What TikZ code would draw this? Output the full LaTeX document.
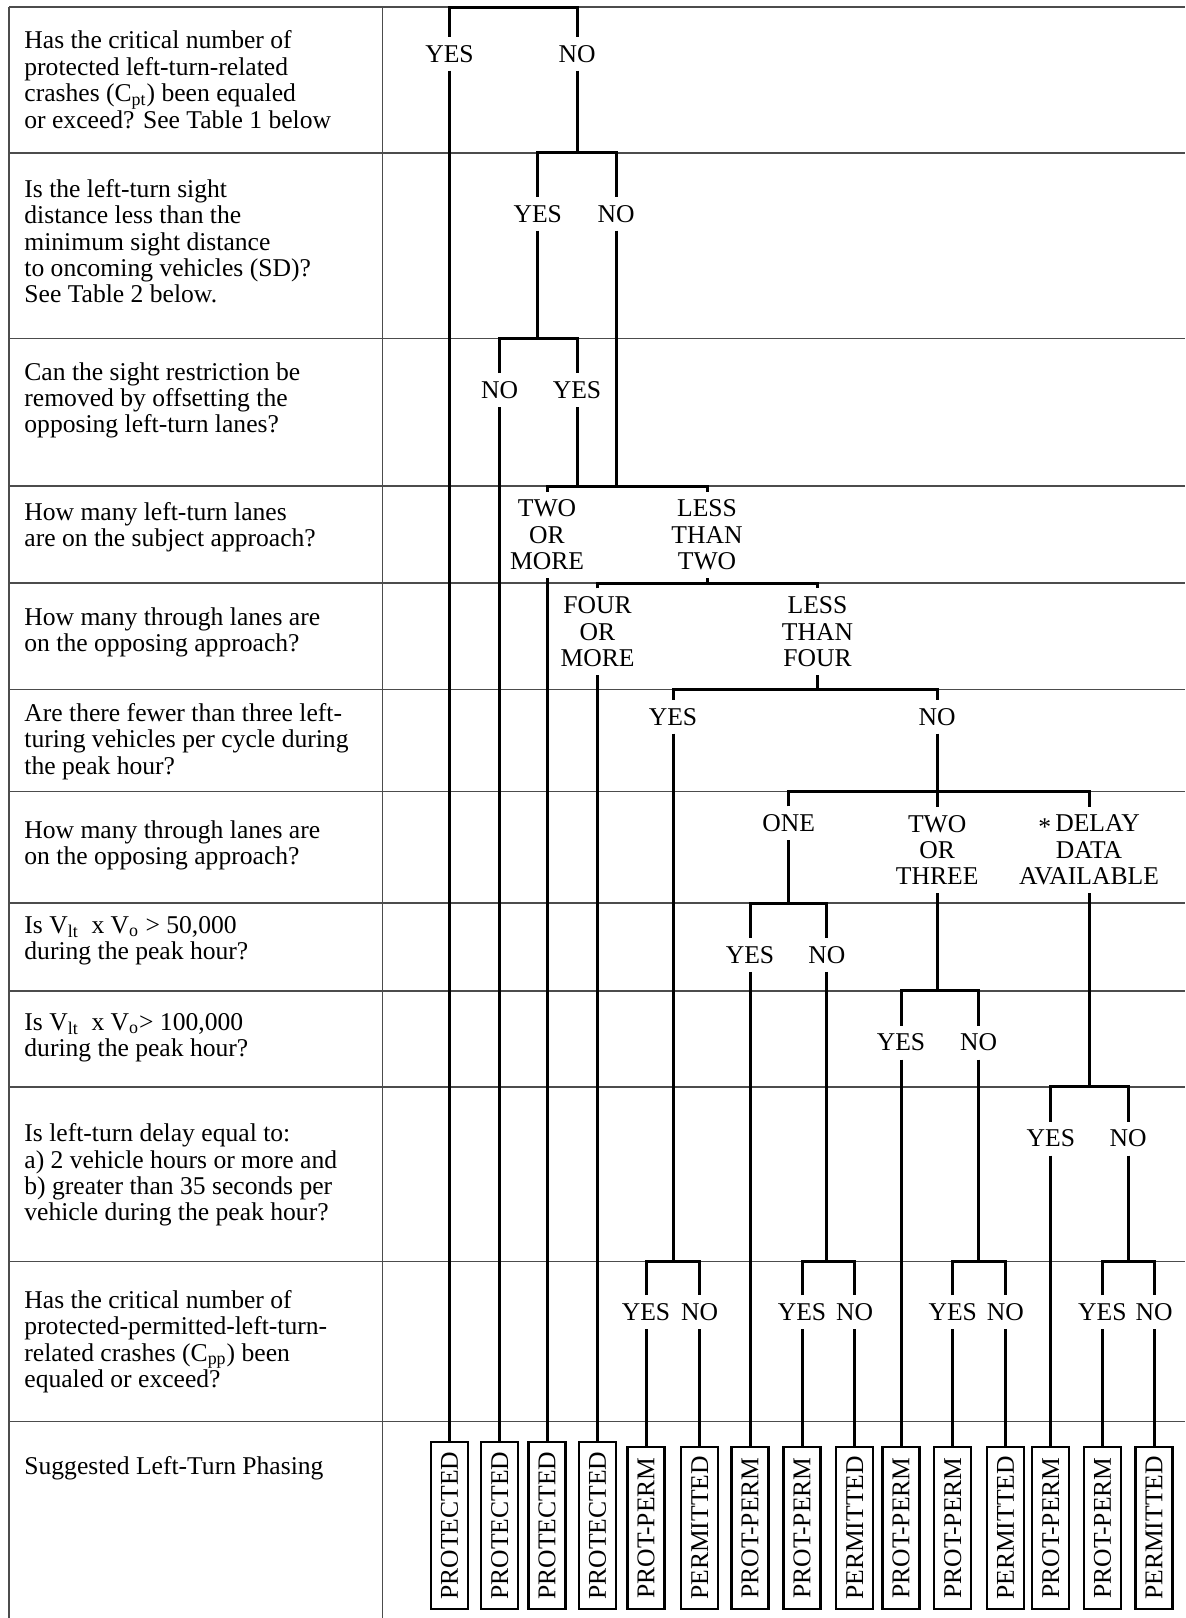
\documentclass[tikz,border=0pt]{standalone}
\usepackage{fontspec}
\setmainfont{Liberation Serif}
\newcommand\qf{\fontsize{12.8}{13.2}\selectfont}
\begin{document}
\begin{tikzpicture}[x=0.5pt,y=-0.5pt,
  grid/.style={draw=black!70, line width=0.75pt},
  tree/.style={draw=black, line width=1.5pt},
  q/.style={anchor=north west, align=left, inner sep=0pt, font=\qf},
  lab/.style={align=center, inner xsep=1pt, inner ysep=4pt, font=\qf},
  outbox/.style={draw=black, line width=1.1pt, rotate=90, inner sep=0pt, minimum height=18.5pt, font=\qf},
  prot/.style={outbox, minimum width=83.5pt},
  pp/.style={outbox, minimum width=81pt}]

\useasboundingbox (0,0) rectangle (1185,1618);
\fill[white] (0,0) rectangle (1185,1618);

% table grid
\foreach \y in {7.2,152.8,338.6,486.2,583.2,689.5,791.7,903.2,990.9,1086.9,1261.4,1421.4}
  \draw[grid] (9,\y) -- (1185,\y);
\draw[grid] (9,7.2) -- (9,1618);
\draw[grid] (382.5,7.2) -- (382.5,1618);

% questions
\node[q] (q1) at (24,30) {\strut Has the critical number of\\ protected left-turn-related\\ crashes (C\textsubscript{pt}) been equaled\\ or exceed? See Table 1 below};
\node[q] (q2) at (24,178.5) {\strut Is the left-turn sight\\ distance less than the\\ minimum sight distance\\ to oncoming vehicles (SD)?\\ See Table 2 below.};
\node[q] (q3) at (24,361.2) {\strut Can the sight restriction be\\ removed by offsetting the\\ opposing left-turn lanes?};
\node[q] (q4) at (24,501.2) {\strut How many left-turn lanes\\ are on the subject approach?};
\node[q] (q5) at (24,606.2) {\strut How many through lanes are\\ on the opposing approach?};
\node[q] (q6) at (24,702.5) {\strut Are there fewer than three left-\\ turing vehicles per cycle during\\ the peak hour?};
\node[q] (q7) at (24,819.5) {\strut How many through lanes are\\ on the opposing approach?};
\node[q] (q8) at (24,914.5) {\strut Is V\textsubscript{lt}\ \ x V\textsubscript{o} > 50,000\\ during the peak hour?};
\node[q] (q9) at (24,1011.2) {\strut Is V\textsubscript{lt}\ \ x V\textsubscript{o}> 100,000\\ during the peak hour?};
\node[q] (q10) at (24,1122.8) {\strut Is left-turn delay equal to:\\ a) 2 vehicle hours or more and\\ b) greater than 35 seconds per\\ vehicle during the peak hour?};
\node[q] (q11) at (24,1289.5) {\strut Has the critical number of\\ protected-permitted-left-turn-\\ related crashes (C\textsubscript{pp}) been\\ equaled or exceed?};
\node[q] (q12) at (24,1455.5) {\strut Suggested Left-Turn Phasing};

% bar coordinates
\coordinate (b1l) at (449.5,7.2);  \coordinate (b1r) at (577,7.2);
\coordinate (b2l) at (537.8,152.8); \coordinate (b2m) at (577,152.8); \coordinate (b2r) at (616.2,152.8);
\coordinate (b3l) at (499.7,338.6); \coordinate (b3m) at (537.8,338.6); \coordinate (b3r) at (577,338.6);
\coordinate (b4l) at (547,486.2); \coordinate (b4a) at (577,486.2); \coordinate (b4b) at (616.2,486.2); \coordinate (b4r) at (707,486.2);
\coordinate (b5l) at (597.5,583.2); \coordinate (b5m) at (707,583.2); \coordinate (b5r) at (817.5,583.2);
\coordinate (b6l) at (673,689.5); \coordinate (b6m) at (817.5,689.5); \coordinate (b6r) at (937.2,689.5);
\coordinate (b7l) at (788.6,791.7); \coordinate (b7m) at (937.2,791.7); \coordinate (b7r) at (1089,791.7);
\coordinate (b8l) at (750,903.2); \coordinate (b8m) at (788.6,903.2); \coordinate (b8r) at (826.8,903.2);
\coordinate (b9l) at (901,990.9); \coordinate (b9m) at (937.2,990.9); \coordinate (b9r) at (978.5,990.9);
\coordinate (b10l) at (1050.8,1086.9); \coordinate (b10m) at (1089,1086.9); \coordinate (b10r) at (1128.2,1086.9);
\coordinate (b11al) at (646,1261.4); \coordinate (b11am) at (673,1261.4); \coordinate (b11ar) at (699.7,1261.4);
\coordinate (b11bl) at (802,1261.4); \coordinate (b11bm) at (826.8,1261.4); \coordinate (b11br) at (854.7,1261.4);
\coordinate (b11cl) at (952.7,1261.4); \coordinate (b11cm) at (978.5,1261.4); \coordinate (b11cr) at (1005.4,1261.4);
\coordinate (b11dl) at (1102.4,1261.4); \coordinate (b11dm) at (1128.2,1261.4); \coordinate (b11dr) at (1154,1261.4);

% labels
\node[lab] (yes1) at (449.5,53.7) {YES};
\node[lab] (no1) at (577,53.7) {NO};
\node[lab] (yes2) at (537.8,213.7) {YES};
\node[lab] (no2) at (616.2,213.7) {NO};
\node[lab] (no3) at (499.7,390.2) {NO};
\node[lab] (yes3) at (577,390.2) {YES};
\node[lab] (twomore) at (547,535) {TWO\\OR\\MORE};
\node[lab] (lesstwo) at (707,535) {LESS\\THAN\\TWO};
\node[lab] (fourmore) at (597.5,631.7) {FOUR\\OR\\MORE};
\node[lab] (lessfour) at (817.5,631.7) {LESS\\THAN\\FOUR};
\node[lab] (yes6) at (673,716.7) {YES};
\node[lab] (no6) at (937.2,716.7) {NO};
\node[lab] (one) at (788.6,823.3) {ONE};
\node[lab] (twothree) at (937.2,850) {TWO\\OR\\THREE};
\node[lab] (delay) at (1089,850) {\raisebox{-0.15em}{*}\,DELAY\\DATA\\AVAILABLE};
\node[lab] (yes8) at (750,954.8) {YES};
\node[lab] (no8) at (826.8,954.8) {NO};
\node[lab] (yes9) at (901,1042.5) {YES};
\node[lab] (no9) at (978.5,1042.5) {NO};
\node[lab] (yes10) at (1050.8,1138.5) {YES};
\node[lab] (no10) at (1128.2,1138.5) {NO};
\node[lab] (y11a) at (646,1312) {YES};
\node[lab] (n11a) at (699.7,1312) {NO};
\node[lab] (y11b) at (802,1312) {YES};
\node[lab] (n11b) at (854.7,1312) {NO};
\node[lab] (y11c) at (952.7,1312) {YES};
\node[lab] (n11c) at (1005.4,1312) {NO};
\node[lab] (y11d) at (1102.4,1312) {YES};
\node[lab] (n11d) at (1154,1312) {NO};

% outcome boxes
\node[prot] (o1) at (449.5,1525.5) {PROTECTED};
\node[prot] (o2) at (499.7,1525.5) {PROTECTED};
\node[prot] (o3) at (547,1525.5) {PROTECTED};
\node[prot] (o4) at (597.5,1525.5) {PROTECTED};
\node[pp] (o5) at (646,1528) {PROT-PERM};
\node[pp] (o6) at (699.7,1528) {PERMITTED};
\node[pp] (o7) at (750,1528) {PROT-PERM};
\node[pp] (o8) at (802,1528) {PROT-PERM};
\node[pp] (o9) at (854.7,1528) {PERMITTED};
\node[pp] (o10) at (901,1528) {PROT-PERM};
\node[pp] (o11) at (952.7,1528) {PROT-PERM};
\node[pp] (o12) at (1005.4,1528) {PERMITTED};
\node[pp] (o13) at (1050.8,1528) {PROT-PERM};
\node[pp] (o14) at (1102.4,1528) {PROT-PERM};
\node[pp] (o15) at (1154,1528) {PERMITTED};

% tree connectors
\draw[tree] (yes1) -- (b1l) -- (b1r) -- (no1);
\draw[tree] (yes1) -- (o1);
\draw[tree] (no1) -- (b2m);
\draw[tree] (yes2) -- (b2l) -- (b2r) -- (no2);
\draw[tree] (yes2) -- (b3m);
\draw[tree] (no3) -- (b3l) -- (b3r) -- (yes3);
\draw[tree] (no3) -- (o2);
\draw[tree] (yes3) -- (b4a);
\draw[tree] (no2) -- (b4b);
\draw[tree] (twomore) -- (b4l) -- (b4r) -- (lesstwo);
\draw[tree] (twomore) -- (o3);
\draw[tree] (lesstwo) -- (b5m);
\draw[tree] (fourmore) -- (b5l) -- (b5r) -- (lessfour);
\draw[tree] (fourmore) -- (o4);
\draw[tree] (lessfour) -- (b6m);
\draw[tree] (yes6) -- (b6l) -- (b6r) -- (no6);
\draw[tree] (yes6) -- (b11am);
\draw[tree] (no6) -- (b7m);
\draw[tree] (one) -- (b7l) -- (b7r) -- (delay);
\draw[tree] (b7m) -- (twothree);
\draw[tree] (one) -- (b8m);
\draw[tree] (twothree) -- (b9m);
\draw[tree] (delay) -- (b10m);
\draw[tree] (yes8) -- (b8l) -- (b8r) -- (no8);
\draw[tree] (yes8) -- (o7);
\draw[tree] (no8) -- (b11bm);
\draw[tree] (yes9) -- (b9l) -- (b9r) -- (no9);
\draw[tree] (yes9) -- (o10);
\draw[tree] (no9) -- (b11cm);
\draw[tree] (yes10) -- (b10l) -- (b10r) -- (no10);
\draw[tree] (yes10) -- (o13);
\draw[tree] (no10) -- (b11dm);
\draw[tree] (y11a) -- (b11al) -- (b11ar) -- (n11a);
\draw[tree] (y11a) -- (o5);
\draw[tree] (n11a) -- (o6);
\draw[tree] (y11b) -- (b11bl) -- (b11br) -- (n11b);
\draw[tree] (y11b) -- (o8);
\draw[tree] (n11b) -- (o9);
\draw[tree] (y11c) -- (b11cl) -- (b11cr) -- (n11c);
\draw[tree] (y11c) -- (o11);
\draw[tree] (n11c) -- (o12);
\draw[tree] (y11d) -- (b11dl) -- (b11dr) -- (n11d);
\draw[tree] (y11d) -- (o14);
\draw[tree] (n11d) -- (o15);
\end{tikzpicture}
\end{document}
